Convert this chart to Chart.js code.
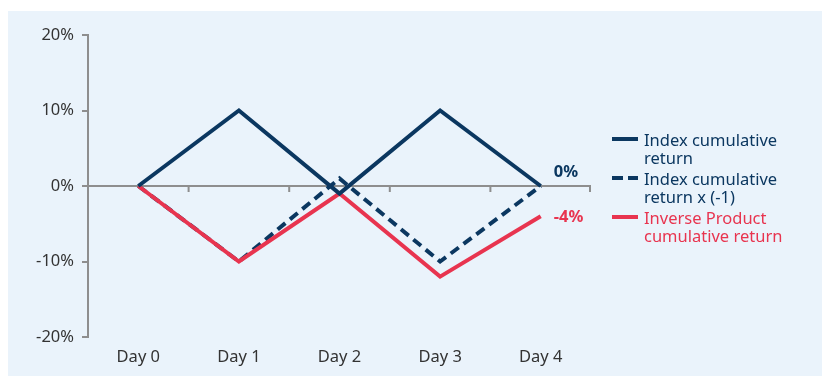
<!DOCTYPE html>
<html>
<head>
<meta charset="utf-8">
<script src="https://cdn.jsdelivr.net/npm/chart.js@4.4.1/dist/chart.umd.min.js"></script>
<style>
  body { margin: 0; background: #fff; font-family: "Noto Sans", sans-serif; }
  #wrap { position: relative; width: 822px; height: 376px; }
  #panel { position: absolute; left: 8px; top: 11px; width: 814px; height: 365px; background: #eaf3fb; }
  #panel canvas { position: absolute; left: 0; top: 0; }
  #legend { position: absolute; left: 604px; top: 120px; margin: 0; padding: 0; list-style: none; }
  #legend li { position: relative; padding-left: 32px; font-size: 16.5px; line-height: 18px; margin-bottom: 3px; }
  #legend .swatch { position: absolute; left: 0; top: 6px; width: 26px; height: 0; border-top: 4px solid; }
</style>
</head>
<body>
<div id="wrap">
  <div id="panel">
    <canvas id="chart" width="814" height="365"></canvas>
    <ul id="legend"></ul>
  </div>
</div>
<script>
const days = ['Day 0', 'Day 1', 'Day 2', 'Day 3', 'Day 4'];
const indexReturn = [0, 10, -1, 10, 0];
const indexReturnInverted = [0, -10, 1, -10, 0];
const inverseProduct = [0, -10, -1, -12, -4];
const yTicks = [-20, -10, 0, 10, 20];

const NAVY = '#0b3760';
const RED = '#e8344f';
const AXIS = '#8e8e8e';
const TEXT = '#333333';
const FONT = { family: 'Noto Sans', size: 16.5 };

const pct = v => v + '%';

// zero line with boundary ticks, plus the closing value next to the last point
const extras = {
  id: 'extras',
  beforeDatasetsDraw(chart) {
    const { ctx, chartArea, scales: { x, y } } = chart;
    const y0 = y.getPixelForValue(0);
    ctx.save();
    ctx.strokeStyle = AXIS;
    ctx.lineWidth = 2;
    ctx.beginPath();
    ctx.moveTo(chartArea.left, y0);
    ctx.lineTo(chartArea.right, y0);
    for (let i = 1; i <= days.length; i++) {
      const bx = i < days.length
        ? (x.getPixelForValue(i - 1) + x.getPixelForValue(i)) / 2
        : chartArea.right - 1;
      ctx.moveTo(bx, y0);
      ctx.lineTo(bx, y0 + 6);
    }
    ctx.stroke();
    ctx.restore();
  },
  afterDatasetsDraw(chart) {
    const { ctx } = chart;
    ctx.save();
    ctx.font = 'bold 16.5px "Noto Sans", sans-serif';
    ctx.textBaseline = 'middle';
    chart.data.datasets.forEach((ds, i) => {
      if (!ds.endLabel) return;
      const pts = chart.getDatasetMeta(i).data;
      const p = pts[pts.length - 1];
      ctx.fillStyle = ds.borderColor;
      ctx.fillText(pct(ds.data[ds.data.length - 1]), p.x + 13, p.y + ds.endLabel.dy);
    });
    ctx.restore();
  }
};

const chart = new Chart(document.getElementById('chart'), {
  type: 'line',
  data: {
    labels: days,
    datasets: [
      {
        label: ['Index cumulative', 'return'],
        data: indexReturn,
        borderColor: NAVY,
        borderWidth: 4,
        order: 0,
        endLabel: { dy: -14 }
      },
      {
        label: ['Index cumulative', 'return x (-1)'],
        data: indexReturnInverted,
        borderColor: NAVY,
        borderWidth: 4,
        borderDash: [10, 6],
        order: 2
      },
      {
        label: ['Inverse Product', 'cumulative return'],
        data: inverseProduct,
        borderColor: RED,
        borderWidth: 4,
        order: 1,
        endLabel: { dy: 1 }
      }
    ]
  },
  options: {
    responsive: false,
    animation: false,
    events: [],
    elements: {
      point: { radius: 0 },
      line: { tension: 0, borderJoinStyle: 'miter', borderCapStyle: 'butt' }
    },
    layout: { padding: { left: 0, right: 231, top: 24, bottom: 0 } },
    plugins: {
      legend: { display: false },
      tooltip: { enabled: false }
    },
    scales: {
      x: {
        offset: true,
        border: { display: false },
        grid: { display: false, drawTicks: false },
        ticks: { color: TEXT, padding: 10, font: FONT, maxRotation: 0 },
        afterFit: axis => { axis.height = 39; }
      },
      y: {
        min: -20,
        max: 20,
        afterBuildTicks: axis => { axis.ticks = yTicks.map(v => ({ value: v })); },
        border: { display: true, color: AXIS, width: 2 },
        grid: { drawOnChartArea: false, drawTicks: true, tickLength: 6, color: AXIS, lineWidth: 2 },
        ticks: { color: TEXT, padding: 8, font: FONT, callback: v => pct(v) },
        afterFit: axis => { axis.width = 80; }
      }
    }
  },
  plugins: [extras]
});

// legend built from the datasets, in dataset order
const legend = document.getElementById('legend');
chart.data.datasets.forEach(ds => {
  const li = document.createElement('li');
  li.style.color = ds.borderColor;
  const sw = document.createElement('span');
  sw.className = 'swatch';
  sw.style.borderColor = ds.borderColor;
  if (ds.borderDash) {
    sw.style.borderTop = 'none';
    sw.style.height = '4px';
    sw.style.background = `repeating-linear-gradient(90deg, ${ds.borderColor} 0 11px, transparent 11px 16px)`;
  }
  li.appendChild(sw);
  li.appendChild(document.createTextNode(ds.label[0]));
  li.appendChild(document.createElement('br'));
  li.appendChild(document.createTextNode(ds.label[1]));
  legend.appendChild(li);
});
</script>
</body>
</html>
